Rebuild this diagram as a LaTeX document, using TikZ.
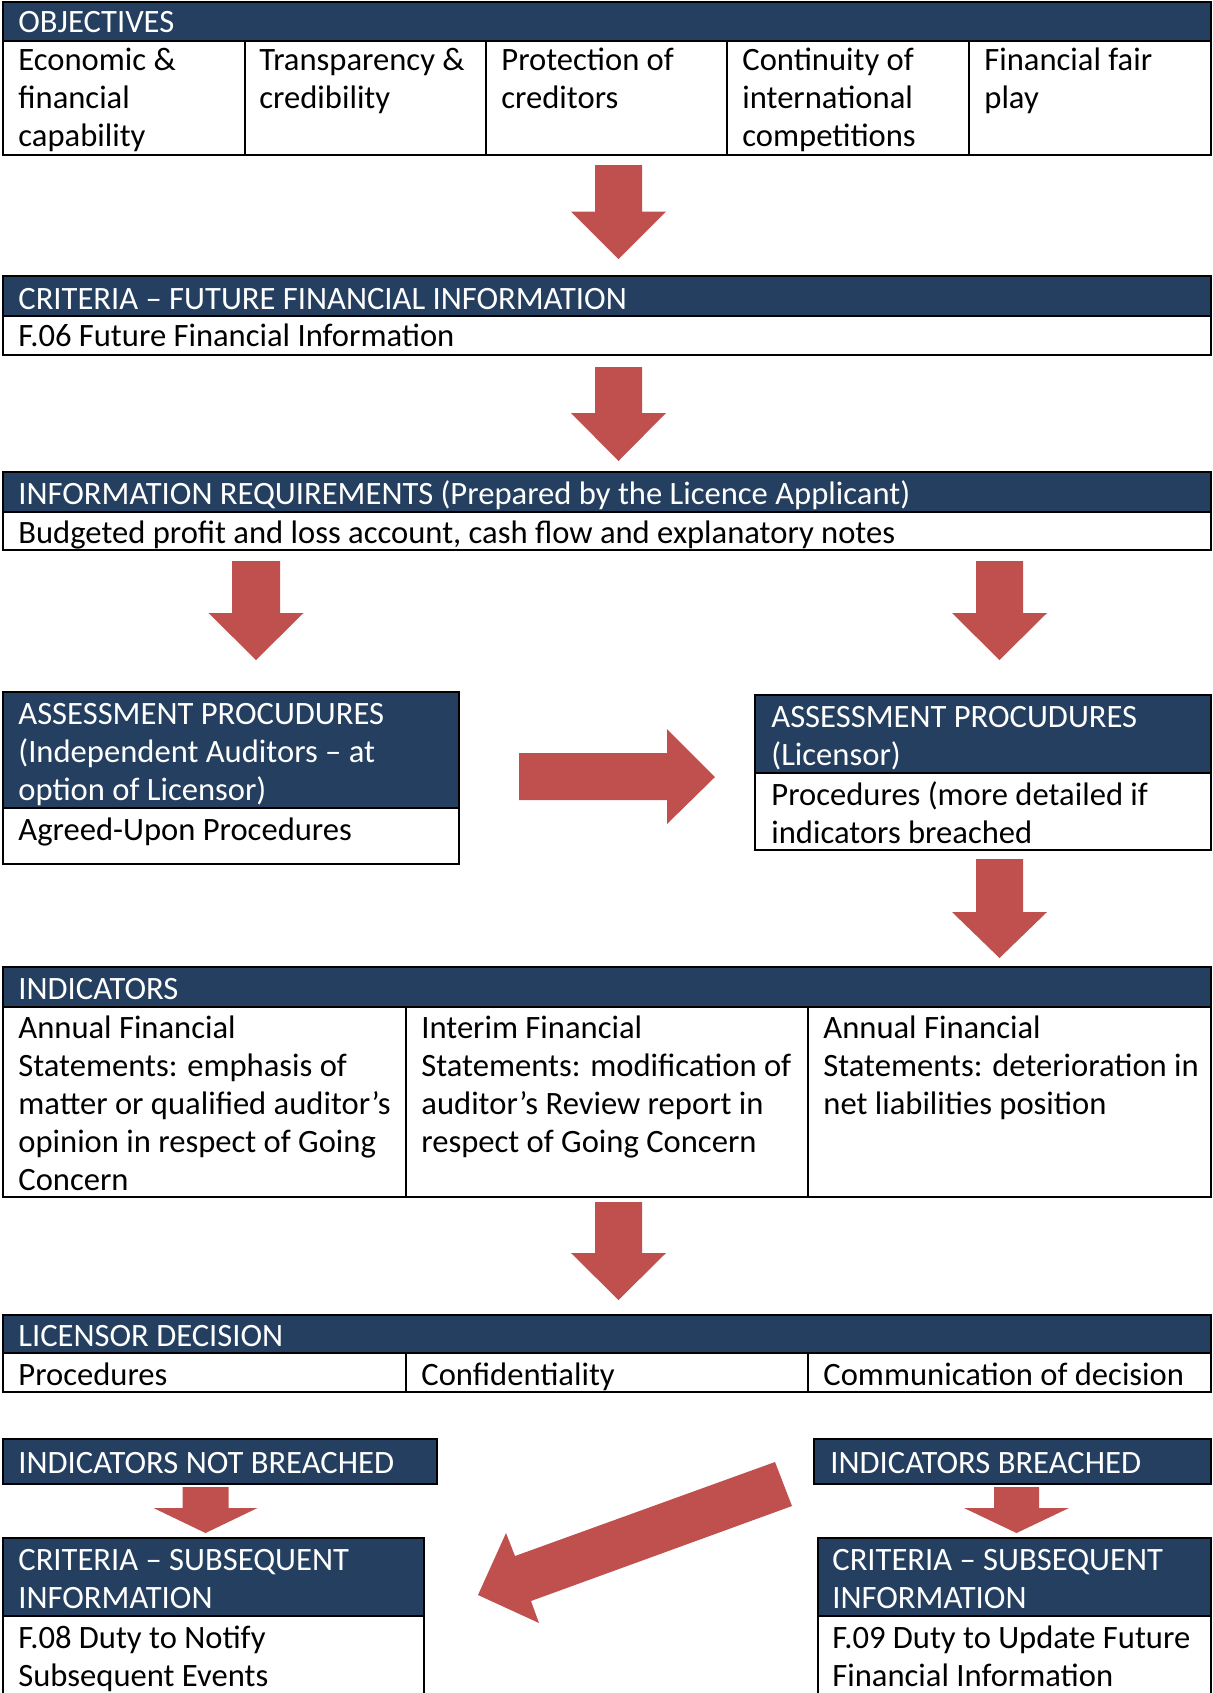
\documentclass[tikz,border=0pt]{standalone}
\usepackage{fontspec}
\setmainfont{Carlito}
\definecolor{navy}{HTML}{243F60}
\definecolor{arrowred}{HTML}{C0504D}
\tikzset{
  hdr/.style={fill=navy},
  frame/.style={draw=black, line width=1pt},
  headtext/.style={text=white, anchor=base west, inner sep=0pt, align=left},
  bodytext/.style={text=black, anchor=base west, inner sep=0pt, align=left},
  blockarrow/.style={fill=arrowred},
}
% down block arrow: centre x, top, head start, tip, stem half width, head half width
\newcommand{\downblock}[6]{%
  \fill[blockarrow] (#1-#5,#2) -- (#1+#5,#2) -- (#1+#5,#3) -- (#1+#6,#3)
    -- (#1,#4) -- (#1-#6,#3) -- (#1-#5,#3) -- cycle;}
\begin{document}
\begin{tikzpicture}[x=0.5pt,y=-0.5pt,font=\fontsize{16.3}{19}\selectfont]
  \useasboundingbox (0,0) rectangle (1212,1693);
  \clip (0,0) rectangle (1212,1693);

  % objectives (multi-line texts sit on their last baseline)
  \fill[hdr] (3,2) rectangle (1211,41);
  \draw[frame] (3,2) rectangle (1211,155);
  \draw[frame] (3,41) -- (1211,41);
  \foreach \cx in {245,486,727,969} \draw[frame] (\cx,41) -- (\cx,155);
  \node[headtext] (obj) at (18,32) {OBJECTIVES};
  \node[bodytext] (obj1) at (18,146) {Economic \&\\financial\\capability};
  \node[bodytext] (obj2) at (259,108) {Transparency \&\\credibility};
  \node[bodytext] (obj3) at (501,108) {Protection of\\creditors};
  \node[bodytext] (obj4) at (742,146) {Continuity of\\international\\competitions};
  \node[bodytext] (obj5) at (984,108) {Financial fair\\play};

  \downblock{618.5}{165}{211.5}{259}{23.5}{47.5}

  % criteria - future financial information
  \fill[hdr] (3,276) rectangle (1211,316);
  \draw[frame] (3,276) rectangle (1211,355);
  \draw[frame] (3,316) -- (1211,316);
  \node[headtext] (crit) at (18,309) {CRITERIA -- FUTURE FINANCIAL INFORMATION};
  \node[bodytext] (critbody) at (18,346) {F.06 Future Financial Information};

  \downblock{618.5}{367}{413}{461}{23.5}{47.5}

  % information requirements
  \fill[hdr] (3,472) rectangle (1211,512);
  \draw[frame] (3,472) rectangle (1211,550);
  \draw[frame] (3,512) -- (1211,512);
  \node[headtext] (info) at (18,504) {INFORMATION REQUIREMENTS (Prepared by the Licence Applicant)};
  \node[bodytext] (infobody) at (18,543) {Budgeted profit and loss account, cash flow and explanatory notes};

  \downblock{256}{561}{613}{660}{24}{47.5}
  \downblock{999.5}{561}{613}{660}{23.5}{47.5}

  % assessment procedures
  \fill[hdr] (3,692) rectangle (459,808);
  \draw[frame] (3,692) rectangle (459,864);
  \draw[frame] (3,808) -- (459,808);
  \node[headtext] (auditors) at (18,800) {ASSESSMENT PROCUDURES\\(Independent Auditors -- at\\option of Licensor)};
  \node[bodytext] (aup) at (18,840) {Agreed-Upon Procedures};

  \fill[hdr] (755,695) rectangle (1211,773);
  \draw[frame] (755,695) rectangle (1211,850);
  \draw[frame] (755,773) -- (1211,773);
  \node[headtext] (licensor) at (771,765) {ASSESSMENT PROCUDURES\\(Licensor)};
  \node[bodytext] (procs) at (771,843) {Procedures (more detailed if\\indicators breached};

  \fill[blockarrow] (519,753) -- (667,753) -- (667,729) -- (715,777)
    -- (667,824) -- (667,800) -- (519,800) -- cycle;

  \downblock{999.5}{859}{912}{958}{23.5}{47.5}

  % indicators
  \fill[hdr] (3,967) rectangle (1211,1007);
  \draw[frame] (3,967) rectangle (1211,1197);
  \draw[frame] (3,1007) -- (1211,1007);
  \foreach \cx in {406,808} \draw[frame] (\cx,1007) -- (\cx,1197);
  \node[headtext] (ind) at (18,999) {INDICATORS};
  \node[bodytext] (ind1) at (18,1190) {Annual Financial\\Statements: emphasis of\\matter or qualified auditor’s\\opinion in respect of Going\\Concern};
  \node[bodytext] (ind2) at (421,1152) {Interim Financial\\Statements: modification of\\auditor’s Review report in\\respect of Going Concern};
  \node[bodytext] (ind3) at (823,1114) {Annual Financial\\Statements: deterioration in\\net liabilities position};

  \downblock{618.5}{1202}{1253}{1300}{23.5}{47.5}

  % licensor decision
  \fill[hdr] (3,1315) rectangle (1211,1353);
  \draw[frame] (3,1315) rectangle (1211,1392);
  \draw[frame] (3,1353) -- (1211,1353);
  \foreach \cx in {406,808} \draw[frame] (\cx,1353) -- (\cx,1392);
  \node[headtext] (dec) at (18,1346) {LICENSOR DECISION};
  \node[bodytext] (dec1) at (18,1385) {Procedures};
  \node[bodytext] (dec2) at (421,1385) {Confidentiality};
  \node[bodytext] (dec3) at (823,1385) {Communication of decision};

  % outcomes
  \fill[hdr] (3,1439) rectangle (437,1484);
  \draw[frame] (3,1439) rectangle (437,1484);
  \node[headtext] (notbr) at (18,1473) {INDICATORS NOT BREACHED};
  \fill[hdr] (814,1439) rectangle (1211,1484);
  \draw[frame] (814,1439) rectangle (1211,1484);
  \node[headtext] (br) at (830,1473) {INDICATORS BREACHED};

  \downblock{205.5}{1487}{1508}{1533}{23}{52}
  \downblock{1016.5}{1487}{1508}{1533}{22.5}{52.5}

  \fill[blockarrow] (775,1462) -- (792,1506) -- (531,1601) -- (539,1623)
    -- (478,1595) -- (506,1533) -- (515,1556) -- cycle;

  % criteria - subsequent information
  \fill[hdr] (3,1538) rectangle (424,1616);
  \draw[frame] (3,1538) rectangle (424,1720);
  \draw[frame] (3,1616) -- (424,1616);
  \node[headtext] (sub1) at (18,1608) {CRITERIA -- SUBSEQUENT\\INFORMATION};
  \node[bodytext] (f08) at (18,1686) {F.08 Duty to Notify\\Subsequent Events};
  \fill[hdr] (818,1538) rectangle (1211,1616);
  \draw[frame] (818,1538) rectangle (1211,1720);
  \draw[frame] (818,1616) -- (1211,1616);
  \node[headtext] (sub2) at (832,1608) {CRITERIA -- SUBSEQUENT\\INFORMATION};
  \node[bodytext] (f09) at (832,1686) {F.09 Duty to Update Future\\Financial Information};
\end{tikzpicture}
\end{document}
